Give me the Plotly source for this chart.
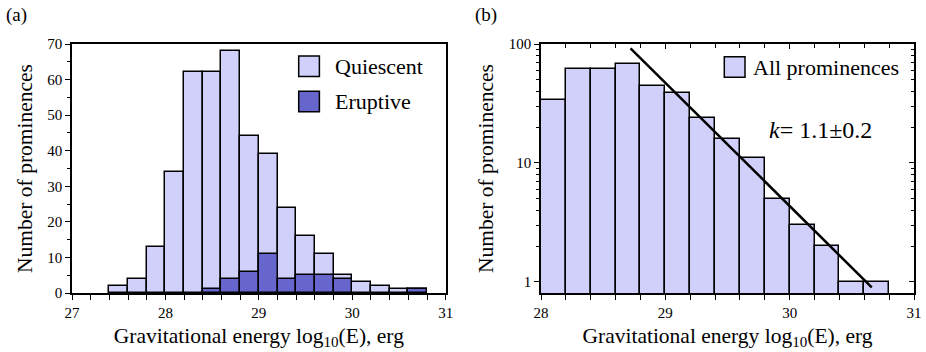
import plotly.graph_objects as go

# ---- data ----
bin_width = 0.2
all_starts = [27.4, 27.6, 27.8, 28.0, 28.2, 28.4, 28.6, 28.8, 29.0, 29.2,
              29.4, 29.6, 29.8, 30.0, 30.2, 30.4, 30.6]
all_counts = [2, 4, 13, 34, 62, 62, 68, 44, 39, 24, 16, 11, 5, 3, 2, 1, 1]

eruptive_starts = [28.4, 28.6, 28.8, 29.0, 29.2, 29.4, 29.6, 29.8, 30.6]
eruptive_counts = [1, 4, 6, 11, 4, 5, 5, 4, 1]

# right panel shows bins from 28.0 on
right_starts = [s for s in all_starts if s >= 28.0]
right_counts = [c for s, c in zip(all_starts, all_counts) if s >= 28.0]

fit_x = [28.72, 30.66]
fit_y = [92, 0.9]

left_xticks = [27, 28, 29, 30, 31]
left_yticks = [0, 10, 20, 30, 40, 50, 60, 70]
right_xticks = [28, 29, 30, 31]
right_yticks = [1, 10, 100]
right_yminor = [2, 3, 4, 5, 6, 7, 8, 9, 20, 30, 40, 50, 60, 70, 80, 90]

legend_left = ["Quiescent", "Eruptive"]
legend_right = ["All prominences"]

LIGHT = "#d0d0fa"
DARK = "#6666cc"
FONT = "'Liberation Serif', 'DejaVu Serif', 'Times New Roman', serif"

def centers(starts):
    return [s + bin_width / 2 for s in starts]

fig = go.Figure()
fig.add_trace(go.Bar(x=centers(all_starts), y=all_counts, width=bin_width,
                     marker=dict(color=LIGHT, line=dict(color="black", width=1.5)),
                     name=legend_left[0], xaxis="x", yaxis="y", showlegend=False))
fig.add_trace(go.Bar(x=centers(eruptive_starts), y=eruptive_counts, width=bin_width,
                     marker=dict(color=DARK, line=dict(color="black", width=1.5)),
                     name=legend_left[1], xaxis="x", yaxis="y", showlegend=False))
fig.add_trace(go.Bar(x=centers(right_starts), y=right_counts, width=bin_width,
                     marker=dict(color=LIGHT, line=dict(color="black", width=1.5)),
                     name=legend_right[0], xaxis="x2", yaxis="y2", showlegend=False))
fig.add_trace(go.Scatter(x=fit_x, y=fit_y, mode="lines",
                         line=dict(color="black", width=2.5),
                         showlegend=False, xaxis="x2", yaxis="y2"))
# invisible companion trace so the inward top/right tick axes of panel (b) are drawn
fig.add_trace(go.Scatter(x=fit_x, y=fit_y, mode="lines",
                         line=dict(color="rgba(0,0,0,0)", width=0),
                         hoverinfo="skip", showlegend=False, xaxis="x3", yaxis="y3"))

W, H = 926, 352
ml, mr, mt, mb = 72, 12, 44, 59
pw = W - ml - mr
ph = H - mt - mb
left_dom = [0, (445.7 - ml) / pw]
right_dom = [(541 - ml) / pw, 1]

def px(x):
    return (x - ml) / pw

def py(y):
    return (H - mb - y) / ph

axis_common = dict(showline=True, linecolor="black", linewidth=1.5,
                   ticks="outside", tickcolor="black", tickwidth=1.3,
                   showgrid=False, zeroline=False, automargin=False,
                   tickfont=dict(family=FONT, size=15, color="black"))
title_font = dict(family=FONT, size=21.5, color="black")

# manual legend (large boxes like the reference)
shapes = []
annotations = []
legend_items = [
    (legend_left[0], LIGHT, 298.7, 56.0, 332.5),
    (legend_left[1], DARK, 298.7, 91.3, 332.5),
    (legend_right[0], LIGHT, 724.3, 56.7, 751.0),
]
for name, col, x0, y0, tx in legend_items:
    shapes.append(dict(type="rect", xref="paper", yref="paper",
                       x0=px(x0), x1=px(x0 + 20.7), y0=py(y0 + 20.5), y1=py(y0),
                       fillcolor=col, line=dict(color="black", width=1.5)))
    annotations.append(dict(text=name, x=px(tx), y=py(y0 + 10.5),
                            xref="paper", yref="paper", xanchor="left", yanchor="middle",
                            showarrow=False, font=dict(family=FONT, size=22, color="black")))

annotations += [
    dict(text="(a)", x=px(4), y=py(15), xref="paper", yref="paper",
         xanchor="left", yanchor="middle", showarrow=False,
         font=dict(family=FONT, size=19, color="black")),
    dict(text="(b)", x=px(473), y=py(15), xref="paper", yref="paper",
         xanchor="left", yanchor="middle", showarrow=False,
         font=dict(family=FONT, size=19, color="black")),
    dict(text="<i>k</i>= 1.1±0.2", x=px(767), y=1.28, xref="paper", yref="y2",
         xanchor="left", yanchor="middle", showarrow=False,
         font=dict(family=FONT, size=24, color="black")),
]

fig.update_layout(
    width=W, height=H,
    margin=dict(l=ml, r=mr, t=mt, b=mb),
    paper_bgcolor="white", plot_bgcolor="white",
    barmode="overlay",
    bargap=0,
    showlegend=False,
    font=dict(family=FONT, color="black"),
    xaxis=dict(domain=left_dom, range=[27, 31], tickvals=left_xticks, ticklen=5,
               minor=dict(dtick=0.2, ticks="outside", ticklen=5, tickcolor="black"),
               mirror=True, anchor="y",
               title=dict(text="Gravitational energy log<sub>10</sub>(E), erg",
                          font=title_font, standoff=8),
               **axis_common),
    yaxis=dict(domain=[0, 1], range=[0, 70], tickvals=left_yticks, ticklen=5,
               minor=dict(dtick=5, ticks="outside", ticklen=3, tickcolor="black"),
               mirror=True, anchor="x",
               title=dict(text="Number of prominences", font=title_font, standoff=9),
               **axis_common),
    xaxis2=dict(domain=right_dom, range=[28, 31], tickvals=right_xticks, ticklen=5,
                minor=dict(dtick=0.2, ticks="outside", ticklen=5, tickcolor="black"),
                mirror=True, anchor="y2",
                title=dict(text="Gravitational energy log<sub>10</sub>(E), erg",
                           font=title_font, standoff=8),
                **axis_common),
    yaxis2=dict(domain=[0, 1], type="log", range=[-0.093, 2], tickvals=right_yticks,
                ticktext=["1", "10", "100"], ticklen=5,
                minor=dict(tickvals=right_yminor, ticks="outside", ticklen=3, tickcolor="black"),
                mirror=True, anchor="x2",
                title=dict(text="Number of prominences", font=title_font, standoff=9),
                **axis_common),
    # inward ticks on the top and right edges of panel (b)
    xaxis3=dict(overlaying="x2", side="top", anchor="y2", range=[28, 31],
                tickvals=right_xticks, ticks="inside", ticklen=5, tickcolor="black",
                tickwidth=1.3, showticklabels=False, showline=False, showgrid=False,
                zeroline=False, automargin=False,
                minor=dict(dtick=0.2, ticks="inside", ticklen=4, tickcolor="black")),
    yaxis3=dict(overlaying="y2", side="right", anchor="x2", type="log", range=[-0.093, 2],
                tickvals=right_yticks, ticks="inside", ticklen=5, tickcolor="black",
                tickwidth=1.3, showticklabels=False, showline=False, showgrid=False,
                zeroline=False, automargin=False,
                minor=dict(tickvals=right_yminor, ticks="inside", ticklen=3, tickcolor="black")),
    shapes=shapes,
    annotations=annotations,
)

fig.write_html("out.html")
